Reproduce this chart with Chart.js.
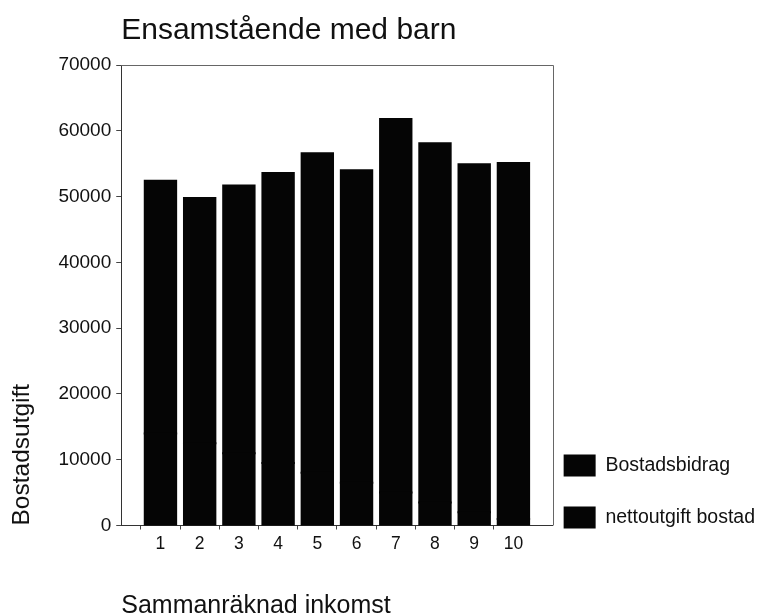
<!DOCTYPE html>
<html>
<head>
<meta charset="utf-8">
<script src="https://cdn.jsdelivr.net/npm/chart.js@4.4.1/dist/chart.umd.min.js"></script>
<style>
  body { margin: 0; background: #fff; }
  #wrap { width: 758px; height: 616px; }
</style>
</head>
<body>
<div id="wrap"><canvas id="myChart"></canvas></div>
<script>
// categories (income groups)
const categories = [1, 2, 3, 4, 5, 6, 7, 8, 9, 10];

// both series are printed solid black, so the split is a guess; totals
const bostadsbidrag = [14000, 12500, 11000, 9500, 8000, 6500, 5000, 3500, 2000, 1000];
const nettoutgift = [38400, 37300, 40700, 44100, 48600, 47500, 56800, 54600, 52900, 54100];

const yTicks = [0, 10000, 20000, 30000, 40000, 50000, 60000, 70000];

const FONT = "'Liberation Sans', Arial, sans-serif";

// top + right border of the plot frame
const frame = {
    id: 'frame',
    afterDraw(chart) {
        const { ctx, chartArea: a } = chart;
        ctx.save();
        ctx.strokeStyle = '#666';
        ctx.lineWidth = 1;
        ctx.beginPath();
        ctx.moveTo(a.left, Math.round(a.top) + 0.5);
        ctx.lineTo(Math.round(a.right) + 0.5, Math.round(a.top) + 0.5);
        ctx.lineTo(Math.round(a.right) + 0.5, a.bottom);
        ctx.stroke();
        ctx.restore();
    }
};

// legend items get blank extra lines so they sit low, next to the bottom of the plot
const blankLines = n => Array(n).fill('');

const data = {
    datasets: [{
        label: 'Bostadsbidrag',
        backgroundColor: '#050505',
        data: categories.map((c, i) => ({ x: c, y: bostadsbidrag[i] })),
    }, {
        label: 'nettoutgift bostad',
        backgroundColor: '#050505',
        data: categories.map((c, i) => ({ x: c, y: nettoutgift[i] })),
    }]
};

const config = {
    type: 'bar',
    data: data,
    options: {
        responsive: true,
        maintainAspectRatio: false,
        animation: false,
        barPercentage: 0.8,
        categoryPercentage: 1,
        inflateAmount: 1,
        layout: { padding: { left: 6, right: -7, top: 0, bottom: 0 } },
        plugins: {
            tooltip: { enabled: false },
            title: {
                display: true,
                text: 'Ensamstående med barn',
                align: 'start',
                fullSize: false,
                color: '#111',
                font: { family: FONT, size: 30, weight: 'normal' },
                padding: { top: 13, bottom: 16 }
            },
            legend: {
                position: 'right',
                align: 'end',
                fullSize: true,
                maxWidth: 240,
                labels: {
                    boxWidth: 32,
                    boxHeight: 22,
                    padding: 11,
                    color: '#111',
                    font: { family: FONT, size: 19.5, lineHeight: 0.4205 },
                    generateLabels: chart => {
                        const items = Chart.defaults.plugins.legend.labels.generateLabels(chart);
                        return items.map((l, i) => Object.assign(l, {
                            text: [l.text].concat(blankLines(i === items.length - 1 ? 11 : 4))
                        }));
                    }
                }
            }
        },
        scales: {
            x: {
                type: 'linear',
                stacked: true,
                min: 0,
                max: 11,
                offset: false,
                ticks: {
                    stepSize: 1,
                    padding: 4,
                    color: '#111',
                    font: { family: FONT, size: 17.5 },
                    callback: v => categories.includes(v) ? String(v) : ''
                },
                grid: {
                    drawOnChartArea: false,
                    tickLength: 4,
                    tickColor: ctx => (ctx.tick && categories.includes(ctx.tick.value)) ? '#444' : 'rgba(0,0,0,0)'
                },
                border: { color: '#333' },
                title: {
                    display: true,
                    text: 'Sammanräknad inkomst',
                    align: 'start',
                    color: '#111',
                    font: { family: FONT, size: 25 },
                    padding: { top: 33, bottom: -5.5 }
                }
            },
            y: {
                stacked: true,
                min: yTicks[0],
                max: yTicks[yTicks.length - 1],
                afterBuildTicks: axis => { axis.ticks = yTicks.map(v => ({ value: v })); },
                ticks: {
                    color: '#111',
                    font: { family: FONT, size: 19 },
                    padding: 5,
                    callback: v => String(v)
                },
                grid: { drawOnChartArea: false, tickLength: 5, tickColor: '#444' },
                border: { color: '#333' },
                title: {
                    display: true,
                    text: 'Bostadsutgift',
                    align: 'start',
                    color: '#111',
                    font: { family: FONT, size: 24.5 },
                    padding: { top: 2, bottom: 16 }
                }
            }
        }
    },
    plugins: [frame]
};

const myChart = new Chart(document.getElementById('myChart'), config);
</script>
</body>
</html>
